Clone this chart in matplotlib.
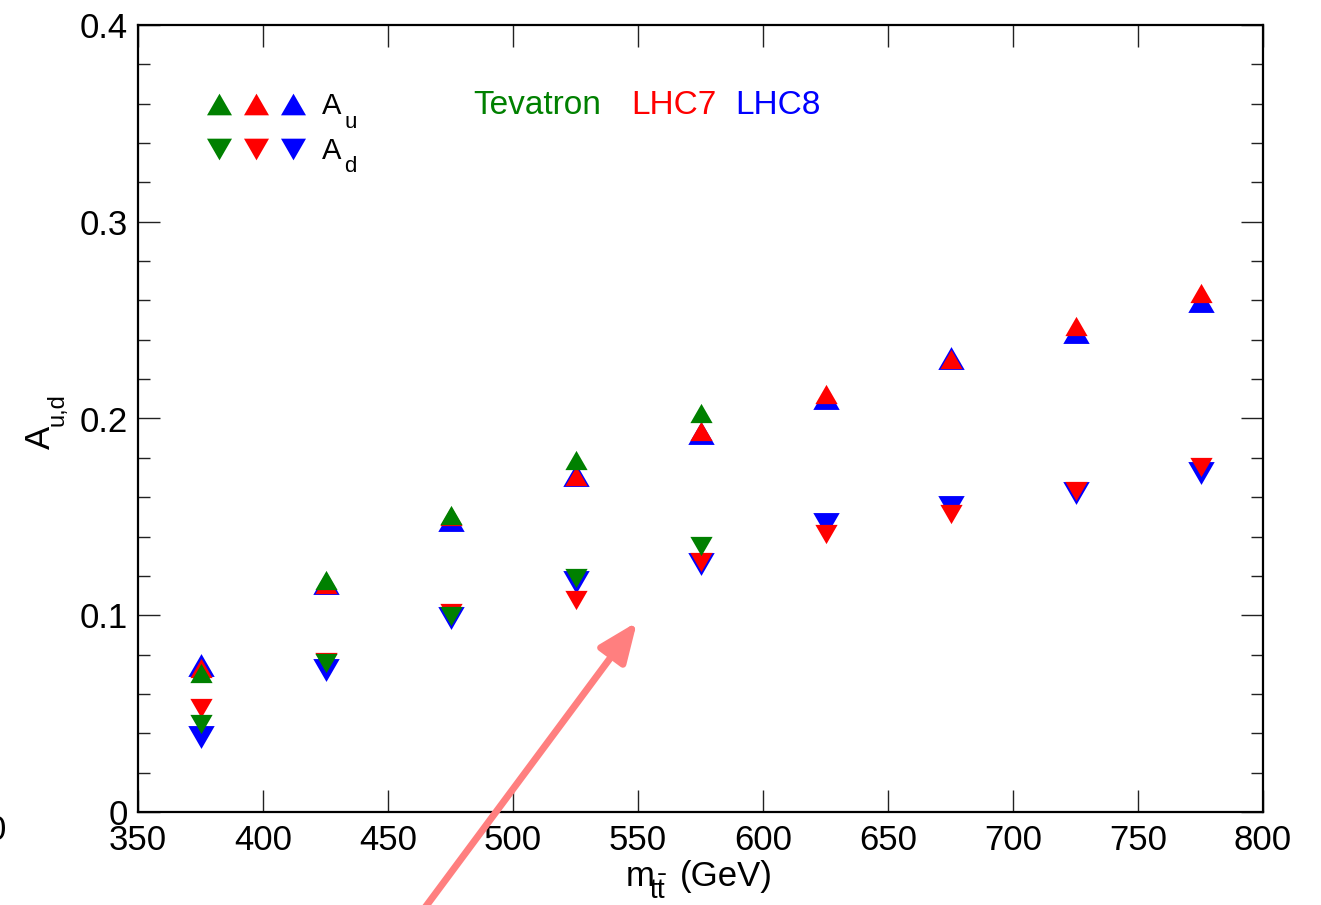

# plot.py - A_u / A_d vs m_tt for Tevatron, LHC7, LHC8
import matplotlib
matplotlib.use("Agg")
import matplotlib.pyplot as plt
from matplotlib.patches import FancyArrowPatch
from matplotlib.ticker import FixedLocator, MultipleLocator

# ---- data ----
mass = [375, 425, 475, 525, 575, 625, 675, 725, 775]
tev_mass = [375, 425, 475, 525, 575]

tev_au = [0.0705, 0.1177, 0.151, 0.179, 0.2027]
tev_ad = [0.0445, 0.0757, 0.0996, 0.119, 0.1352]

lhc7_au = [0.0734, 0.1161, 0.1502, 0.1708, 0.1939, 0.2122, 0.2302, 0.2468, 0.2638]
lhc7_ad = [0.0530, 0.0760, 0.1010, 0.1080, 0.1270, 0.1415, 0.1515, 0.1634, 0.1756]

lhc8_au = [0.0747, 0.1164, 0.1484, 0.1713, 0.1926, 0.2106, 0.2306, 0.2438, 0.2596]
lhc8_ad = [0.0380, 0.0720, 0.0986, 0.1170, 0.1262, 0.1464, 0.1550, 0.1623, 0.1725]

xticks = [350, 400, 450, 500, 550, 600, 650, 700, 750, 800]
yticks = [0, 0.1, 0.2, 0.3, 0.4]
ytick_labels = ["0", "0.1", "0.2", "0.3", "0.4"]

GREEN = "#008000"
RED = "#ff0000"
BLUE = "#0000ff"

plt.rcParams["font.family"] = ["Liberation Sans", "DejaVu Sans"]
plt.rcParams["mathtext.fontset"] = "custom"
plt.rcParams["mathtext.rm"] = "Liberation Sans"
plt.rcParams["mathtext.it"] = "Liberation Sans"
plt.rcParams["mathtext.bf"] = "Liberation Sans"

# equilateral triangles centred on their bounding box
UP = [(-1, -0.866), (1, -0.866), (0, 0.866), (-1, -0.866)]
DOWN = [(-1, 0.866), (1, 0.866), (0, -0.866), (-1, 0.866)]

W, H = 1321, 905


def px(x, y):
    # picture pixels (from top-left) -> figure fraction
    return x / W, 1 - y / H


fig = plt.figure(figsize=(W / 100, H / 100), dpi=100)
ax = fig.add_axes([138 / W, 1 - 812 / H, 1125 / W, 787 / H])

# blue first, then red, green on top
ax.plot(mass, lhc8_au, ls="none", marker=UP, ms=19, color=BLUE, mew=0)
ax.plot(mass, lhc8_ad, ls="none", marker=DOWN, ms=19, color=BLUE, mew=0)
ax.plot(mass, lhc7_au, ls="none", marker=UP, ms=16, color=RED, mew=0)
ax.plot(mass, lhc7_ad, ls="none", marker=DOWN, ms=16, color=RED, mew=0)
ax.plot(tev_mass, tev_au, ls="none", marker=UP, ms=16, color=GREEN, mew=0)
ax.plot(tev_mass, tev_ad, ls="none", marker=DOWN, ms=16, color=GREEN, mew=0)

ax.set_xlim(350, 800)
ax.set_ylim(0, 0.4)
ax.xaxis.set_major_locator(FixedLocator(xticks))
ax.set_xticklabels([str(v) for v in xticks])
ax.yaxis.set_major_locator(FixedLocator(yticks))
ax.set_yticklabels(ytick_labels)
ax.yaxis.set_minor_locator(MultipleLocator(0.02))

ax.tick_params(which="both", direction="in", top=True, right=True,
               labelsize=25, width=1.0, color="#222222")
ax.tick_params(which="major", length=16)
ax.tick_params(which="minor", length=8.5)
ax.tick_params(axis="x", which="major", pad=8.5)
ax.tick_params(axis="y", which="major", pad=7.5)
for sp in ax.spines.values():
    sp.set_linewidth(1.6)

# x label: m with a low, large subscript (Grace style)
fig.text(*px(626, 886), "m", fontsize=25, va="baseline")
fig.text(*px(649, 899), r"$\mathrm{t\bar{t}}$", fontsize=20, va="baseline")
fig.text(*px(680, 886), "(GeV)", fontsize=25, va="baseline")

# y label, rotated
fig.text(*px(50, 449), "A", fontsize=25, rotation=90, rotation_mode="anchor",
         ha="left", va="baseline")
fig.text(*px(64, 426), "u,d", fontsize=17, rotation=90, rotation_mode="anchor",
         ha="left", va="baseline")

# hand-made legend
leg_x = [0.072, 0.105, 0.138]
for cx, col in zip(leg_x, [GREEN, RED, BLUE]):
    ax.plot([cx], [0.899], transform=ax.transAxes, marker=UP, ms=18,
            color=col, mew=0, ls="none", clip_on=False)
    ax.plot([cx], [0.8424], transform=ax.transAxes, marker=DOWN, ms=18,
            color=col, mew=0, ls="none", clip_on=False)
fig.text(*px(322, 114), "A", fontsize=21, va="baseline")
fig.text(*px(344, 128), "u", fontsize=16, va="baseline")
fig.text(*px(322, 159), "A", fontsize=21, va="baseline")
fig.text(*px(344, 172), "d", fontsize=16, va="baseline")

fig.text(*px(473, 114), "Tevatron", color=GREEN, fontsize=24, va="baseline")
fig.text(*px(631, 114), "LHC7", color=RED, fontsize=24, va="baseline")
fig.text(*px(735, 114), "LHC8", color=BLUE, fontsize=24, va="baseline")

# stray digit at the left edge (from a neighbouring panel)
fig.text(*px(-4, 830), "0", fontsize=25, ha="center", va="center")

# salmon arrow overlay
arrow = FancyArrowPatch(px(418, 917), px(637, 622),
                        transform=fig.transFigure,
                        arrowstyle="-|>,head_length=1.2,head_width=0.5",
                        mutation_scale=20, color="#ff7f7f", lw=5,
                        shrinkA=0, shrinkB=0, zorder=20)
fig.add_artist(arrow)

fig.savefig("out.png", dpi=100, facecolor="white")
